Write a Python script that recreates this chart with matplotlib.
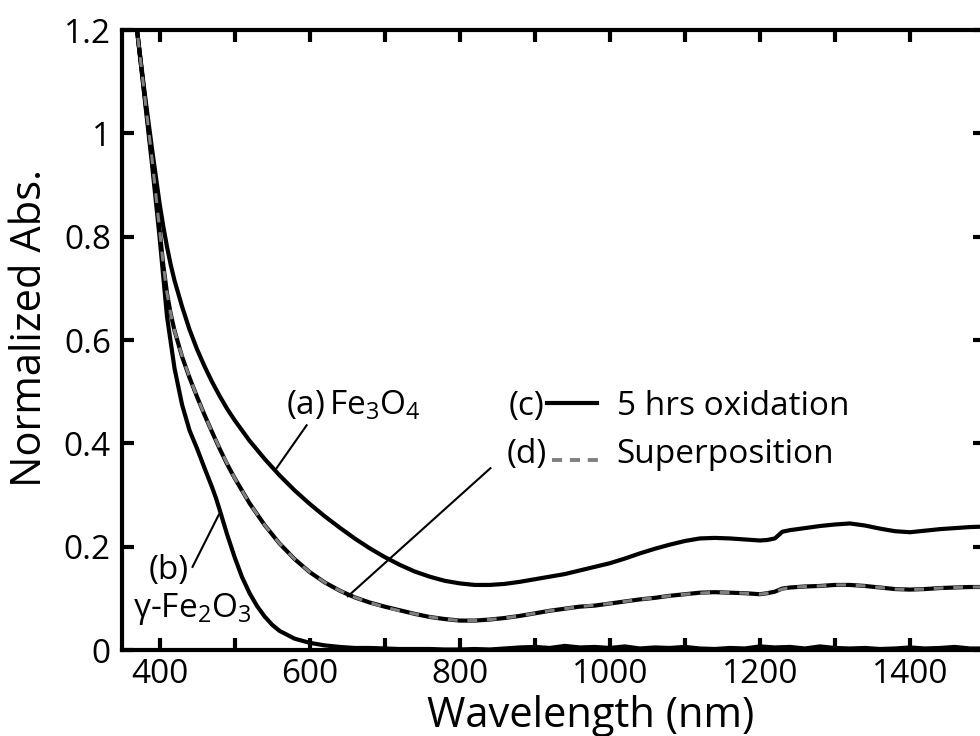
import matplotlib
matplotlib.use("Agg")
import matplotlib.pyplot as plt
from matplotlib.ticker import MultipleLocator, FuncFormatter

plt.rcParams['font.family'] = ['Open Sans', 'DejaVu Sans']
plt.rcParams['mathtext.fontset'] = 'custom'
plt.rcParams['mathtext.rm'] = 'Open Sans'
plt.rcParams['mathtext.it'] = 'Open Sans:italic'
plt.rcParams['mathtext.bf'] = 'Open Sans:bold'

# wavelength grid (nm) shared by curves (a), (c), (d)
wl = [360, 370, 380, 390, 400, 405, 410, 415, 420, 430, 440, 450, 460, 470,
      480, 490, 500, 520, 540, 560, 580, 600, 620, 640, 660, 680, 700, 720,
      740, 760, 780, 800, 820, 840, 860, 880, 900, 920, 940, 960, 980, 1000,
      1020, 1040, 1060, 1080, 1100, 1120, 1140, 1160, 1180, 1200, 1210, 1220,
      1230, 1240, 1260, 1280, 1300, 1320, 1340, 1360, 1380, 1400, 1420, 1440,
      1460, 1480, 1500]

# (a) Fe3O4
abs_fe3o4 = [1.32, 1.20, 1.08, 0.97, 0.865, 0.82, 0.78, 0.745, 0.715, 0.665,
             0.62, 0.582, 0.549, 0.519, 0.492, 0.467, 0.445, 0.405, 0.37,
             0.338, 0.309, 0.283, 0.259, 0.237, 0.216, 0.197, 0.180, 0.165,
             0.152, 0.142, 0.134, 0.129, 0.126, 0.126, 0.128, 0.132, 0.137,
             0.142, 0.147, 0.154, 0.161, 0.168, 0.177, 0.187, 0.196, 0.204,
             0.211, 0.216, 0.217, 0.216, 0.214, 0.212, 0.213, 0.216, 0.229,
             0.232, 0.236, 0.240, 0.243, 0.245, 0.241, 0.235, 0.230, 0.228,
             0.231, 0.234, 0.236, 0.238, 0.239]

# (c) 5 hrs oxidation
abs_5hrs = [1.32, 1.20, 1.075, 0.95, 0.815, 0.745, 0.69, 0.65, 0.618, 0.568,
            0.527, 0.49, 0.455, 0.422, 0.39, 0.36, 0.333, 0.284, 0.242, 0.206,
            0.176, 0.151, 0.131, 0.115, 0.102, 0.092, 0.084, 0.077, 0.070,
            0.064, 0.060, 0.057, 0.057, 0.059, 0.062, 0.066, 0.071, 0.076,
            0.080, 0.084, 0.086, 0.090, 0.094, 0.098, 0.101, 0.105, 0.108,
            0.111, 0.112, 0.111, 0.110, 0.108, 0.110, 0.113, 0.119, 0.121,
            0.123, 0.124, 0.126, 0.126, 0.124, 0.121, 0.118, 0.117, 0.118,
            0.120, 0.121, 0.122, 0.122]

# (d) superposition of (a) and (b)
abs_super = [1.32, 1.20, 1.075, 0.95, 0.815, 0.745, 0.69, 0.65, 0.618, 0.569,
             0.528, 0.49, 0.455, 0.422, 0.391, 0.361, 0.333, 0.284, 0.242,
             0.206, 0.176, 0.151, 0.131, 0.115, 0.102, 0.092, 0.083, 0.076,
             0.070, 0.064, 0.060, 0.057, 0.057, 0.059, 0.062, 0.066, 0.071,
             0.076, 0.080, 0.084, 0.087, 0.090, 0.094, 0.098, 0.101, 0.105,
             0.108, 0.110, 0.112, 0.111, 0.110, 0.108, 0.110, 0.113, 0.118,
             0.121, 0.123, 0.124, 0.126, 0.126, 0.124, 0.121, 0.118, 0.117,
             0.118, 0.120, 0.121, 0.122, 0.122]

# (b) gamma-Fe2O3
wl_b = [360, 370, 380, 390, 400, 410, 420, 430, 440, 450, 460, 470, 475, 480,
        490, 500, 510, 520, 530, 540, 550, 560, 580, 600, 620, 640, 660, 680,
        700, 720, 740, 760, 780, 800, 820, 840, 860, 880, 900, 920, 940, 960,
        980, 1000, 1020, 1040, 1060, 1080, 1100, 1120, 1140, 1160, 1180, 1200,
        1220, 1240, 1260, 1280, 1300, 1320, 1340, 1360, 1380, 1400, 1420,
        1440, 1460, 1480, 1500]
abs_gfe2o3 = [1.32, 1.20, 1.07, 0.94, 0.80, 0.645, 0.545, 0.475, 0.425, 0.39,
              0.352, 0.315, 0.295, 0.272, 0.224, 0.18, 0.141, 0.11, 0.085,
              0.065, 0.049, 0.037, 0.022, 0.014, 0.009, 0.006, 0.004, 0.004,
              0.003, 0.002, 0.002, 0.002, 0.001, 0.001, 0.002, 0.001, 0.003,
              0.005, 0.006, 0.004, 0.008, 0.005, 0.006, 0.004, 0.007, 0.003,
              0.005, 0.004, 0.006, 0.003, 0.002, 0.004, 0.003, 0.007, 0.005,
              0.006, 0.003, 0.007, 0.004, 0.003, 0.004, 0.002, 0.003, 0.005,
              0.003, 0.004, 0.006, 0.003, 0.003]

ytick_vals = [0, 0.2, 0.4, 0.6, 0.8, 1.0, 1.2]

fig = plt.figure(figsize=(9.8, 7.36), dpi=100)
ax = fig.add_axes([0.1245, 0.1168, 0.8806, 0.8424])

line_kw = dict(color='black', lw=3.0, solid_capstyle='round',
               solid_joinstyle='round')
ax.plot(wl, abs_fe3o4, **line_kw)
ax.plot(wl_b, abs_gfe2o3, **line_kw)
ax.plot(wl, abs_5hrs, **line_kw)
ax.plot(wl, abs_super, color='#808080', lw=2.2, dashes=(3.2, 3.2))

ax.set_xlim(350, 1500)
ax.set_ylim(0, 1.2)

ax.xaxis.set_major_locator(MultipleLocator(200))
ax.xaxis.set_minor_locator(MultipleLocator(100))
ax.set_yticks(ytick_vals)
ax.yaxis.set_major_formatter(FuncFormatter(lambda v, p: '%g' % v))

ax.tick_params(which='both', direction='in', top=True, right=True,
               length=8.5, width=3, labelsize=24)
ax.tick_params(axis='x', which='major', pad=6)
ax.tick_params(axis='y', which='major', pad=8)
for sp in ax.spines.values():
    sp.set_linewidth(3)

ax.set_xlabel('Wavelength (nm)', fontsize=30)
ax.set_ylabel('Normalized Abs.', fontsize=30)
ax.xaxis.set_label_coords(0.5435, -0.072)
ax.yaxis.set_label_coords(-0.082, 0.519)

# curve labels with pointer lines
ax.text(568, 0.455, '(a)$\\,$Fe$_3$O$_4$', fontsize=24, ha='left', va='baseline')
ax.plot([596, 555], [0.435, 0.350], color='black', lw=1.5)

ax.text(385, 0.137, '(b)', fontsize=24, ha='left', va='baseline')
ax.text(365, 0.064, 'γ-Fe$_2$O$_3$', fontsize=24, ha='left', va='baseline')
ax.plot([444, 479], [0.161, 0.262], color='black', lw=1.5)

ax.plot([841, 651], [0.352, 0.104], color='black', lw=1.5)

# inline key
ax.text(913, 0.455, '(c)', fontsize=24, ha='right', va='baseline')
ax.plot([916, 983], [0.478, 0.478], color='black', lw=3.0)
ax.text(1010, 0.455, '5 hrs oxidation', fontsize=24, ha='left', va='baseline')

ax.text(916, 0.362, '(d)', fontsize=24, ha='right', va='baseline')
ax.plot([923, 988], [0.368, 0.368], color='#808080', lw=2.8, dashes=(2.6, 2.0))
ax.text(1009, 0.362, 'Superposition', fontsize=24, ha='left', va='baseline')

fig.savefig('out.png', dpi=100)
